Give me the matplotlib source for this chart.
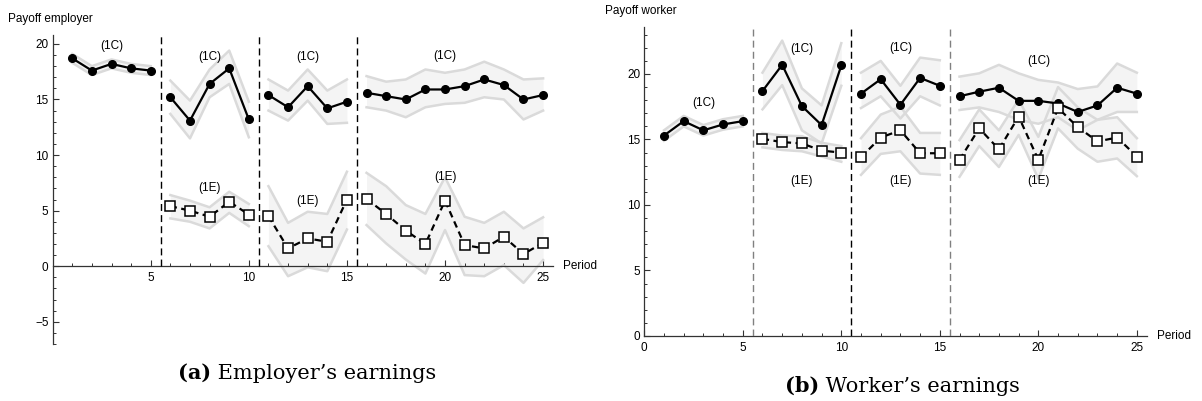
import matplotlib.pyplot as plt
from matplotlib.ticker import MultipleLocator

# periods and treatment blocks (dashed lines between blocks)
periods = list(range(1, 26))
blocks = [(1, 5), (6, 10), (11, 15), (16, 25)]
breaks = [5.5, 10.5, 15.5]

# employer payoff, treatment 1C (periods 1-25)
emp_c = [18.7, 17.6, 18.2, 17.8, 17.6, 15.2, 13.1, 16.4, 17.8, 13.2, 15.4, 14.3, 16.2, 14.2, 14.8,
         15.6, 15.3, 15.0, 15.9, 15.9, 16.2, 16.8, 16.3, 15.0, 15.4]
emp_c_hi = [19.1, 18.0, 18.6, 18.2, 18.0, 16.7, 14.9, 17.7, 19.4, 14.8, 16.8, 15.8, 17.7, 15.8, 16.8,
            17.1, 16.6, 16.8, 17.7, 17.4, 17.7, 18.4, 17.7, 16.8, 16.9]
emp_c_lo = [18.3, 17.2, 17.8, 17.4, 17.2, 13.7, 11.5, 15.2, 16.4, 11.6, 14.0, 13.1, 14.9, 12.8, 12.9,
            14.3, 14.0, 13.4, 14.3, 14.6, 14.7, 15.2, 15.0, 13.2, 14.0]
# employer payoff, treatment 1E (periods 6-25)
emp_e = [5.4, 5.0, 4.45, 5.8, 4.65, 4.5, 1.6, 2.5, 2.2, 6.0,
         6.05, 4.7, 3.2, 2.0, 5.9, 1.9, 1.6, 2.65, 1.1, 2.1]
emp_e_hi = [6.4, 5.9, 5.3, 6.7, 5.6, 7.2, 3.9, 4.9, 4.7, 8.5,
            8.4, 7.2, 5.5, 4.7, 8.0, 4.45, 3.9, 4.9, 3.4, 4.4]
emp_e_lo = [4.3, 4.0, 3.4, 4.8, 3.6, 1.8, -0.9, -0.1, -0.45, 3.3,
            3.7, 2.05, 0.6, -0.66, 3.25, -0.8, -0.9, 0.1, -1.5, 0.55]

# worker payoff, treatment 1C
wrk_c = [15.3, 16.4, 15.7, 16.15, 16.4, 18.7, 20.7, 17.55, 16.1, 20.65, 18.5, 19.6, 17.65, 19.7, 19.1,
         18.3, 18.65, 18.95, 17.95, 17.95, 17.75, 17.1, 17.6, 18.95, 18.5]
wrk_c_hi = [15.7, 16.8, 16.1, 16.55, 16.8, 20.1, 22.55, 18.9, 17.6, 22.35, 20.1, 21.0, 19.1, 21.25, 21.05,
            19.8, 20.05, 20.7, 20.05, 19.55, 19.35, 18.85, 19.05, 20.8, 20.1]
wrk_c_lo = [14.9, 16.0, 15.3, 15.75, 16.0, 17.3, 19.15, 15.7, 14.7, 19.1, 17.4, 18.3, 16.6, 18.3, 17.6,
            17.25, 17.45, 17.1, 16.5, 16.2, 16.7, 15.7, 16.5, 17.1, 17.1]
# worker payoff, treatment 1E
wrk_e = [15.05, 14.8, 14.7, 14.15, 14.0, 13.65, 15.15, 15.7, 13.95, 13.95,
         13.45, 15.85, 14.25, 16.75, 13.45, 17.4, 15.95, 14.85, 15.15, 13.7]
wrk_e_hi = [15.5, 15.3, 15.25, 14.75, 14.5, 15.1, 16.9, 17.5, 15.5, 15.5,
            14.95, 17.3, 15.7, 18.05, 15.2, 19.0, 17.45, 16.5, 16.7, 15.1]
wrk_e_lo = [14.4, 14.2, 14.1, 13.7, 13.3, 12.3, 13.9, 14.1, 12.4, 12.3,
            12.15, 14.5, 12.9, 15.35, 12.0, 15.85, 14.3, 13.3, 13.55, 12.2]

# block labels
emp_labels = [(3, 19.8, "(1C)"), (8, 18.8, "(1C)"), (13, 18.8, "(1C)"), (20, 18.9, "(1C)"),
              (8, 7.0, "(1E)"), (13, 5.9, "(1E)"), (20, 8.0, "(1E)")]
wrk_labels = [(3, 17.75, "(1C)"), (8, 21.9, "(1C)"), (13, 21.95, "(1C)"), (20, 21.0, "(1C)"),
              (8, 11.8, "(1E)"), (13, 11.8, "(1E)"), (20, 11.8, "(1E)")]

plt.rcParams["font.family"] = ["Liberation Sans", "DejaVu Sans"]
plt.rcParams["font.size"] = 8.5

BAND_FILL = "#f4f4f4"
BAND_EDGE = "#dadada"


def draw_series(ax, x, y, lo, hi, kind):
    # one segment per block, nothing drawn across the dashed lines
    for a, b in blocks:
        idx = [i for i, p in enumerate(x) if a <= p <= b]
        if not idx:
            continue
        xs = [x[i] for i in idx]
        ax.fill_between(xs, [lo[i] for i in idx], [hi[i] for i in idx], color=BAND_FILL, lw=0, zorder=1)
        ax.plot(xs, [lo[i] for i in idx], color=BAND_EDGE, lw=1.8, zorder=2)
        ax.plot(xs, [hi[i] for i in idx], color=BAND_EDGE, lw=1.8, zorder=2)
        ys = [y[i] for i in idx]
        if kind == "C":
            ax.plot(xs, ys, color="black", lw=1.6, marker="o", ms=5.5, zorder=4)
        else:
            ax.plot(xs, ys, color="black", lw=1.6, linestyle=(0, (3, 2)), zorder=4)
            ax.plot(xs, ys, linestyle="none", marker="s", ms=6.5, mfc="white", mec="black", mew=1.1, zorder=5)


def style_axes(ax, ylim, xticks, yticks):
    ax.set_xlim(0, 25.5)
    ax.set_ylim(*ylim)
    for s in ["top", "right"]:
        ax.spines[s].set_visible(False)
    ax.spines["bottom"].set_position(("data", 0))
    ax.spines["left"].set_position(("data", 0))
    for s in ["bottom", "left"]:
        ax.spines[s].set_color("#333333")
        ax.spines[s].set_linewidth(0.9)
    ax.set_xticks(xticks)
    ax.set_yticks(yticks)
    ax.xaxis.set_minor_locator(MultipleLocator(1))
    ax.yaxis.set_minor_locator(MultipleLocator(1))
    ax.tick_params(which="major", direction="in", length=4, width=0.8, colors="#333333", labelcolor="black")
    ax.tick_params(which="minor", direction="in", length=2.5, width=0.7, colors="#333333")
    ax.tick_params(axis="x", pad=4)
    ax.tick_params(axis="y", pad=3)
    ax.patch.set_alpha(0)
    ax.text(26.0, 0, "Period", va="center", ha="left", fontsize=8.5, clip_on=False)


fig = plt.figure(figsize=(12.02, 4.01), dpi=100)

# (a) employer
ax1 = fig.add_axes([0.0438, 0.1421, 0.4162, 0.7706])
style_axes(ax1, (-7, 20.8), [5, 10, 15, 20, 25], [-5, 0, 5, 10, 15, 20])
ax1.set_yticklabels(["\u22125", "0", "5", "10", "15", "20"])
for b in breaks:
    ax1.plot([b, b], [0, 20.8], color="black", lw=1.0, linestyle=(0, (5, 3)), zorder=3)
draw_series(ax1, periods, emp_c, emp_c_lo, emp_c_hi, "C")
draw_series(ax1, periods[5:], emp_e, emp_e_lo, emp_e_hi, "E")
for x, y, t in emp_labels:
    ax1.text(x, y, t, ha="center", va="center", fontsize=8.5, zorder=6)

# (b) worker
ax2 = fig.add_axes([0.536, 0.1621, 0.418, 0.771])
style_axes(ax2, (0, 23.6), [0, 5, 10, 15, 20, 25], [0, 5, 10, 15, 20])
for b, c in zip(breaks, ["#808080", "black", "#808080"]):
    ax2.plot([b, b], [0, 23.6], color=c, lw=1.0, linestyle=(0, (5, 3)), zorder=3)
draw_series(ax2, periods, wrk_c, wrk_c_lo, wrk_c_hi, "C")
draw_series(ax2, periods[5:], wrk_e, wrk_e_lo, wrk_e_hi, "E")
for x, y, t in wrk_labels:
    ax2.text(x, y, t, ha="center", va="center", fontsize=8.5, zorder=6)

fig.text(8 / 1202, 1 - 19 / 401, "Payoff employer", ha="left", va="center", fontsize=8.5)
fig.text(605 / 1202, 1 - 11 / 401, "Payoff worker", ha="left", va="center", fontsize=8.5)

# captions, bold sub-letter then plain text
serif = ["DejaVu Serif"]
ta = fig.text(178 / 1202, 1 - 373 / 401, "(a)", fontweight="bold", family=serif, fontsize=15, va="center")
ax1.annotate(" Employer\u2019s earnings", xy=(1, 0), xycoords=ta, va="bottom", ha="left",
             family=serif, fontsize=15, annotation_clip=False)
tb = fig.text(785 / 1202, 1 - 386 / 401, "(b)", fontweight="bold", family=serif, fontsize=15, va="center")
ax2.annotate(" Worker\u2019s earnings", xy=(1, 0), xycoords=tb, va="bottom", ha="left",
             family=serif, fontsize=15, annotation_clip=False)

fig.savefig("out.png", dpi=100)
